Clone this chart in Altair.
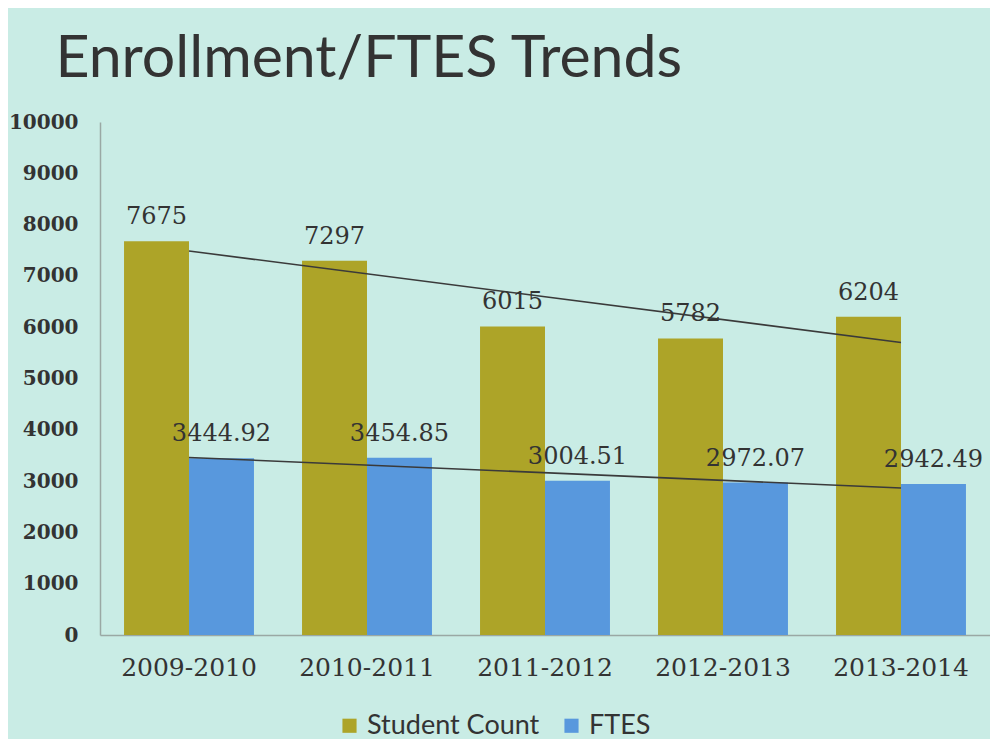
import altair as alt
import pandas as pd

years = ["2009-2010", "2010-2011", "2011-2012", "2012-2013", "2013-2014"]
student_count = [7675, 7297, 6015, 5782, 6204]
ftes = [3444.92, 3454.85, 3004.51, 2972.07, 2942.49]
student_labels = ["7675", "7297", "6015", "5782", "6204"]
ftes_labels = ["3444.92", "3454.85", "3004.51", "2972.07", "2942.49"]
series_names = ["Student Count", "FTES"]
y_ticks = [0, 1000, 2000, 3000, 4000, 5000, 6000, 7000, 8000, 9000, 10000]

rows = []
for i, y in enumerate(years):
    rows.append({"year": y, "idx": i + 1, "series": "Student Count",
                 "value": student_count[i], "label": student_labels[i]})
    rows.append({"year": y, "idx": i + 1, "series": "FTES",
                 "value": ftes[i], "label": ftes_labels[i]})
df = pd.DataFrame(rows)

xenc = alt.X("year:N", sort=years, title=None,
             scale=alt.Scale(paddingInner=0.27, paddingOuter=0.135),
             axis=alt.Axis(labelAngle=0, ticks=False, labelPadding=20,
                           labelFont="DejaVu Serif", labelFontSize=25,
                           labelColor="#333333", domainColor="#9aa8a4",
                           domainWidth=1.5))
yenc = alt.Y("value:Q", title=None,
             scale=alt.Scale(domain=[0, 10000], nice=False),
             axis=alt.Axis(values=y_ticks, format="d", grid=False, ticks=False,
                           labelPadding=22, labelFont="DejaVu Serif",
                           labelFontSize=20, labelFontWeight="bold",
                           labelColor="#333333", domainColor="#9aa8a4",
                           domainWidth=1.5))
xoff = alt.XOffset("series:N", sort=series_names,
                   scale=alt.Scale(paddingInner=0, paddingOuter=0))

base = alt.Chart(df)

bars = base.mark_bar().encode(
    x=xenc, y=yenc, xOffset=xoff,
    color=alt.Color("series:N", sort=series_names,
                    scale=alt.Scale(domain=series_names,
                                    range=["#ADA428", "#5898DD"]),
                    legend=alt.Legend(title=None, orient="none",
                                      direction="horizontal",
                                      legendX=236, legendY=590,
                                      symbolType="square", symbolSize=200,
                                      labelFont="Lato", labelFontSize=27,
                                      labelLimit=400,
                                      labelColor="#333333", columnPadding=18)),
)

labels = base.mark_text(baseline="bottom", dy=-12, font="DejaVu Serif",
                        fontSize=24, color="#333333").encode(
    x=alt.X("year:N", sort=years), y="value:Q", xOffset=xoff,
    text="label:N",
)

years_js = "[" + ",".join("'" + y + "'" for y in years) + "]"
trend = base.transform_regression(
    "idx", "value", groupby=["series"], method="linear"
).transform_calculate(
    year=years_js + "[round(datum.idx) - 1]"
).mark_line(color="#3a3a3a", strokeWidth=1.6).encode(
    x=alt.X("year:N", sort=years, bandPosition=0.5),
    y="value:Q",
    detail="series:N",
)

chart = alt.layer(bars, trend, labels).properties(
    width=890, height=513,
    title=alt.TitleParams("Enrollment/FTES Trends", anchor="start",
                          frame="bounds", dx=47, offset=23, font="Lato",
                          fontSize=59, fontWeight="normal", color="#333333"),
    padding={"left": 0, "top": 22, "right": 0, "bottom": 0},
    background="#C9ECE5",
).configure_view(stroke=None)

chart.save("out.html", embed_options={"renderer": "svg", "actions": False})
